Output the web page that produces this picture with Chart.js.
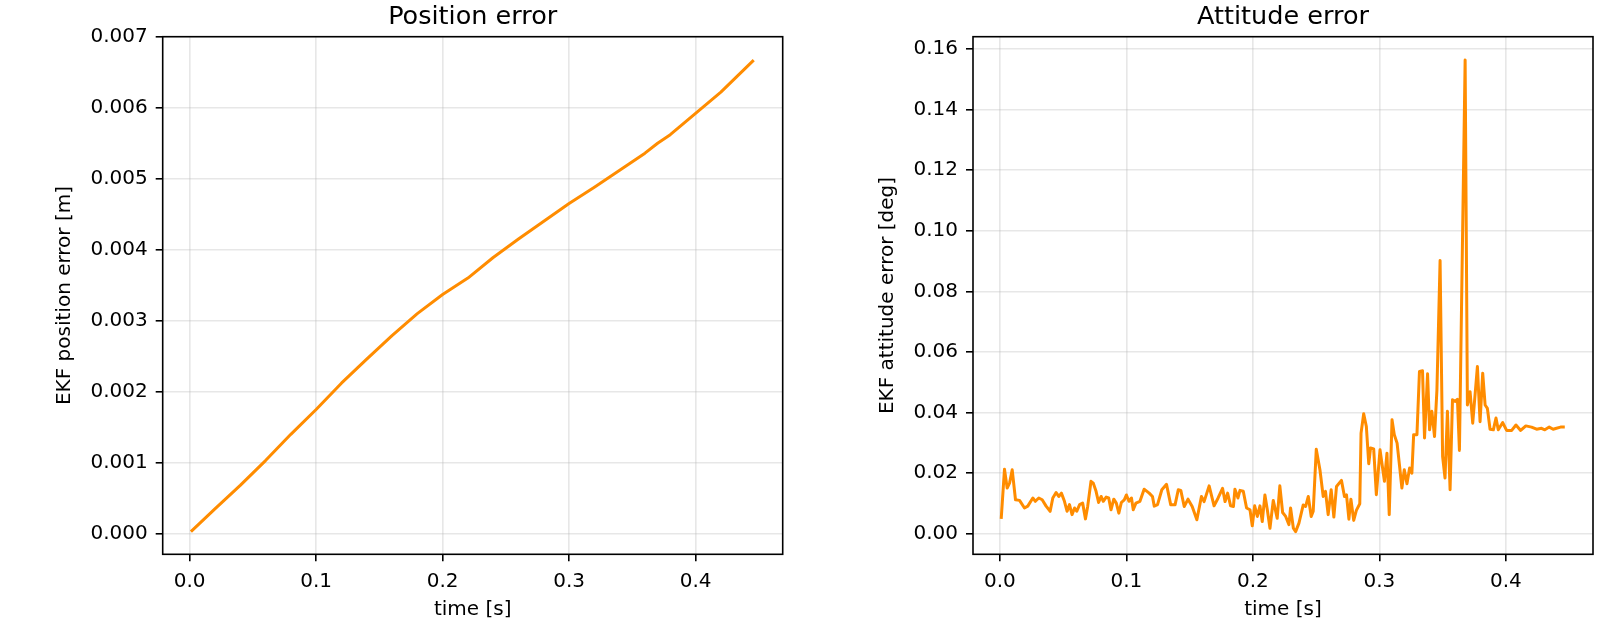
<!DOCTYPE html>
<html>
<head>
<meta charset="utf-8">
<title>EKF errors</title>
<script src="https://cdn.jsdelivr.net/npm/chart.js@4.4.1/dist/chart.umd.min.js"></script>
<style>
  html, body { margin: 0; padding: 0; background: #fff; }
  #wrap { position: relative; width: 1600px; height: 626px; }
  canvas { position: absolute; top: 0; }
</style>
</head>
<body>
<div id="wrap">
  <canvas id="pos" width="800" height="626" style="left:0;width:800px;height:626px"></canvas>
  <canvas id="att" width="800" height="626" style="left:800px;width:800px;height:626px"></canvas>
</div>
<script>
// position error
const posTime = [0.001, 0.02, 0.04, 0.06, 0.08, 0.10, 0.12, 0.14, 0.16, 0.18, 0.20, 0.22,
  0.24, 0.26, 0.28, 0.30, 0.32, 0.34, 0.36, 0.37, 0.38, 0.40, 0.42, 0.446];
const posErr = [0.00003, 0.00035, 0.00068, 0.00103, 0.00140, 0.00175, 0.00212, 0.00246,
  0.00279, 0.00310, 0.00337, 0.00360, 0.00389, 0.00415, 0.00440, 0.00465, 0.00488,
  0.00512, 0.00536, 0.00550, 0.00562, 0.00592, 0.00622, 0.00667];

// attitude error
const attTime = [0.001, 0.0036, 0.0057, 0.0076, 0.0097, 0.0123, 0.0155, 0.0194, 0.022, 0.026,
  0.028, 0.0307, 0.0334, 0.0365, 0.0397, 0.0418, 0.0444, 0.0465, 0.0486, 0.051,
  0.0531, 0.055, 0.057, 0.059, 0.0607, 0.063, 0.0654, 0.0676, 0.0694, 0.072,
  0.0738, 0.076, 0.078, 0.080, 0.0817, 0.084, 0.086, 0.0878, 0.090, 0.092,
  0.094, 0.096, 0.0983, 0.100, 0.102, 0.104, 0.1054, 0.1075, 0.1107, 0.114,
  0.118, 0.1206, 0.122, 0.1246, 0.128, 0.1317, 0.135, 0.1385, 0.141, 0.143,
  0.1457, 0.1487, 0.152, 0.1557, 0.1593, 0.1614, 0.1654, 0.1693, 0.1725, 0.176,
  0.178, 0.180, 0.1824, 0.1846, 0.1858, 0.1882, 0.1898, 0.1924, 0.195, 0.1977,
  0.1995, 0.2014, 0.2035, 0.2056, 0.2074, 0.2095, 0.2114, 0.2135, 0.2161, 0.2192,
  0.2213, 0.2235, 0.2259, 0.2285, 0.2298, 0.232, 0.2338, 0.2364, 0.2398, 0.2417,
  0.2438, 0.2461, 0.2477, 0.2501, 0.253, 0.2556, 0.2574, 0.2595, 0.2619, 0.264,
  0.2661, 0.270, 0.2724, 0.274, 0.2759, 0.2775, 0.2797, 0.2818, 0.2845, 0.2855,
  0.2876, 0.2897, 0.2916, 0.293, 0.2955, 0.2976, 0.3005, 0.304, 0.306, 0.3078,
  0.310, 0.3118, 0.314, 0.316, 0.3178, 0.3197, 0.3218, 0.3239, 0.3257, 0.3271,
  0.3297, 0.3317, 0.3341, 0.3357, 0.3381, 0.3397, 0.3415, 0.3436, 0.3455, 0.348,
  0.350, 0.3519, 0.3538, 0.3559, 0.3578, 0.360, 0.3617, 0.3633, 0.3678, 0.3696,
  0.3717, 0.3738, 0.3775, 0.3796, 0.3817, 0.3836, 0.3854, 0.3875, 0.3901, 0.3922,
  0.394, 0.3975, 0.4006, 0.4046, 0.408, 0.4117, 0.4158, 0.4203, 0.4243, 0.4282,
  0.4308, 0.4343, 0.4374, 0.440, 0.4432, 0.4466];
const attErr = [0.0049, 0.0213, 0.0151, 0.0167, 0.0211, 0.0112, 0.0110, 0.0085, 0.0091, 0.0118,
  0.0107, 0.0118, 0.0112, 0.0091, 0.0074, 0.0118, 0.0136, 0.0123, 0.0134, 0.0107,
  0.0074, 0.0096, 0.0063, 0.0085, 0.0074, 0.0096, 0.0101, 0.0049, 0.0091, 0.0173,
  0.0167, 0.0140, 0.0103, 0.0123, 0.0107, 0.0121, 0.0118, 0.0079, 0.0114, 0.0101,
  0.0068, 0.0103, 0.0112, 0.0128, 0.0107, 0.0118, 0.0079, 0.0101, 0.0107, 0.0147,
  0.0134, 0.0123, 0.0091, 0.0096, 0.0145, 0.0163, 0.0096, 0.0096, 0.0145, 0.0143,
  0.0090, 0.0114, 0.0090, 0.0046, 0.0123, 0.0106, 0.0158, 0.0092, 0.0118, 0.0150,
  0.0106, 0.0134, 0.0092, 0.0090, 0.0147, 0.0118, 0.0143, 0.0140, 0.0085, 0.0079,
  0.0026, 0.0092, 0.0057, 0.0092, 0.0040, 0.0128, 0.0079, 0.0018, 0.0110, 0.0051,
  0.0158, 0.0070, 0.0057, 0.0030, 0.0085, 0.0018, 0.0007, 0.0035, 0.0095, 0.0090,
  0.0123, 0.0057, 0.0074, 0.0279, 0.0211, 0.0123, 0.0140, 0.0063, 0.0145, 0.0055,
  0.0156, 0.0176, 0.0123, 0.0128, 0.0048, 0.0114, 0.0044, 0.0077, 0.0099, 0.0332,
  0.0396, 0.0354, 0.0231, 0.0283, 0.0280, 0.0129, 0.0277, 0.0173, 0.0266, 0.0063,
  0.0376, 0.0327, 0.0299, 0.0222, 0.0151, 0.0211, 0.0165, 0.0217, 0.0200, 0.0327,
  0.0327, 0.0536, 0.0538, 0.0316, 0.0528, 0.0343, 0.0404, 0.0321, 0.0475, 0.0902,
  0.0255, 0.0184, 0.0404, 0.0145, 0.0442, 0.0437, 0.0444, 0.0275, 0.1564, 0.0425,
  0.0469, 0.0365, 0.0552, 0.0370, 0.0530, 0.0425, 0.0414, 0.0345, 0.0343, 0.0382,
  0.0343, 0.0367, 0.0341, 0.0341, 0.0359, 0.0341, 0.0356, 0.0352, 0.0345, 0.0348,
  0.0343, 0.0352, 0.0345, 0.0348, 0.0352, 0.0352];

const xTicks = [0.0, 0.1, 0.2, 0.3, 0.4];
const posTicks = [0.000, 0.001, 0.002, 0.003, 0.004, 0.005, 0.006, 0.007];
const attTicks = [0.00, 0.02, 0.04, 0.06, 0.08, 0.10, 0.12, 0.14, 0.16];

const FONT = "'DejaVu Sans', 'Liberation Sans', sans-serif";
const ORANGE = "#ff8c00";

// matplotlib style frame on all four sides
const frame = {
  id: "frame",
  afterDraw(chart) {
    const { ctx, chartArea: a } = chart;
    ctx.save();
    ctx.strokeStyle = "#000";
    ctx.lineWidth = 1.6;
    ctx.strokeRect(a.left, a.top, a.right - a.left, a.bottom - a.top);
    ctx.restore();
  }
};

function makeChart(id, cfg) {
  const grid = {
    color: "rgba(176,176,176,0.3)",
    lineWidth: 1.6,
    tickLength: 7,
    tickColor: "#000",
    tickWidth: 1.6
  };
  return new Chart(document.getElementById(id), {
    type: "line",
    data: {
      datasets: [{
        data: cfg.xs.map((t, i) => ({ x: t, y: cfg.ys[i] })),
        borderColor: ORANGE,
        borderWidth: 3,
        borderJoinStyle: "round",
        pointRadius: 0,
        tension: 0,
        fill: false
      }]
    },
    options: {
      responsive: false,
      animation: false,
      events: [],
      layout: { padding: { left: 0, right: cfg.padRight, top: 0, bottom: 0 } },
      scales: {
        x: {
          type: "linear",
          min: -0.0213,
          max: 0.4689,
          afterBuildTicks: (s) => { s.ticks = xTicks.map(v => ({ value: v })); },
          afterFit: (s) => { s.height = 71.7; },
          grid: grid,
          border: { display: false },
          ticks: {
            color: "#000",
            font: { family: FONT, size: 20 },
            padding: 8,
            maxRotation: 0,
            callback: (v) => v.toFixed(1)
          },
          title: {
            display: true,
            text: "time [s]",
            color: "#000",
            font: { family: FONT, size: 20 },
            padding: { top: 0, bottom: 4 }
          }
        },
        y: {
          type: "linear",
          min: cfg.yMin,
          max: cfg.yMax,
          afterBuildTicks: (s) => { s.ticks = cfg.yTicks.map(v => ({ value: v })); },
          afterFit: (s) => { s.width = cfg.yWidth; },
          grid: grid,
          border: { display: false },
          ticks: {
            color: "#000",
            font: { family: FONT, size: 20 },
            padding: 8,
            callback: (v) => v.toFixed(cfg.digits)
          },
          title: {
            display: true,
            text: cfg.yLabel,
            color: "#000",
            font: { family: FONT, size: 20 },
            padding: { top: cfg.yTitlePad, bottom: 0 }
          }
        }
      },
      plugins: {
        legend: { display: false },
        tooltip: { enabled: false },
        title: {
          display: true,
          text: cfg.title,
          color: "#000",
          fullSize: false,
          font: { family: FONT, size: 25.5, weight: "normal" },
          padding: { top: 2, bottom: 4.1 }
        }
      }
    },
    plugins: [frame]
  });
}

makeChart("pos", {
  xs: posTime, ys: posErr,
  yMin: -0.00029, yMax: 0.007, yTicks: posTicks, digits: 3,
  title: "Position error", yLabel: "EKF position error [m]",
  yWidth: 162.7, padRight: 17.3, yTitlePad: 53
});

makeChart("att", {
  xs: attTime, ys: attErr,
  yMin: -0.0068, yMax: 0.1641, yTicks: attTicks, digits: 2,
  title: "Attitude error", yLabel: "EKF attitude error [deg]",
  yWidth: 173, padRight: 7, yTitlePad: 76
});
</script>
</body>
</html>
